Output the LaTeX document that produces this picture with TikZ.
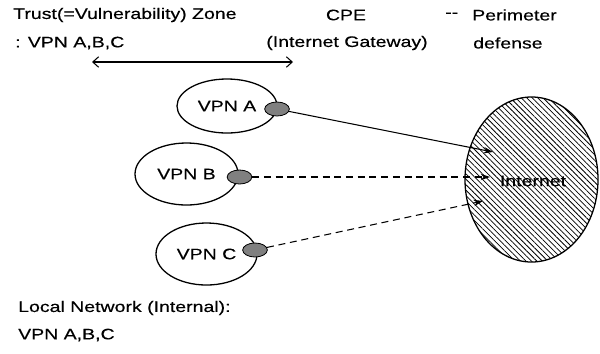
\documentclass[tikz,border=0pt]{standalone}
\usepackage{fontspec}
\setmainfont{Liberation Sans}[FakeStretch=1.28,FakeBold=0.4]
\usetikzlibrary{arrows.meta,shapes.geometric,patterns.meta}

\begin{document}
\begin{tikzpicture}[x=0.03cm,y=-0.03cm,
  every node/.style={font=\fontsize{13}{15}\selectfont},
  vpn/.style={draw,ellipse,line width=1.1pt,inner sep=0pt},
  port/.style={draw,ellipse,fill=black!50,line width=0.7pt,inner sep=0pt,minimum width=0.74cm,minimum height=0.42cm},
  txt/.style={anchor=west,inner sep=0pt},
  link/.style={line width=0.9pt,-{Stealth[length=8pt,width=5.5pt]}},
  dlink/.style={link,dash pattern=on 6pt off 4pt}]
\useasboundingbox (0,0) rectangle (600,353);

% top labels
\node[txt] (trust) at (13,15) {Trust(=Vulnerability) Zone};
\node[txt] (zone) at (15,43) {: VPN A,B,C};
\node (cpe) at (346,15) {CPE};
\node (gw) at (347,43) {(Internet Gateway)};
\node[txt] (dash) at (445,15) {-{}-};
\node[txt] (per) at (472,15) {Perimeter};
\node[txt] (def) at (473,43) {defense};

% span of the zone
\coordinate (l) at (92,62);
\coordinate (r) at (293,62);
\draw[line width=0.9pt,{Straight Barb[length=5pt,width=9pt]}-{Straight Barb[length=5pt,width=9pt]}] (l) -- (r);

% local networks
\node[vpn,minimum width=3cm,minimum height=1.62cm] (A) at (227,106) {VPN A};
\node[vpn,minimum width=3.09cm,minimum height=1.86cm] (B) at (186.5,174) {VPN B};
\node[vpn,minimum width=3.03cm,minimum height=1.86cm] (C) at (206.5,254) {VPN C};

\node[port] (gA) at (277,109) {};
\node[port] (gB) at (239.5,177) {};
\node[port] (gC) at (255,250) {};

% internet
\node[draw,ellipse,line width=1.1pt,pattern={Lines[angle=-45,distance=3.3pt,line width=0.65pt]},minimum width=3.99cm,minimum height=4.95cm] (net) at (531.5,179.5) {};
\node (inet) at (533,181) {Internet};

\coordinate (tA) at (493,152);
\coordinate (tB) at (490,177);
\coordinate (tC) at (483,201);

\draw[link] (gA) -- (tA);
\draw[dlink] (gB) -- (tB);
\draw[dlink] (gC) -- (tC);

% bottom labels
\node[txt] (loc) at (18,308) {Local Network (Internal):};
\node[txt] (locv) at (18,335) {VPN A,B,C};

\end{tikzpicture}
\end{document}
